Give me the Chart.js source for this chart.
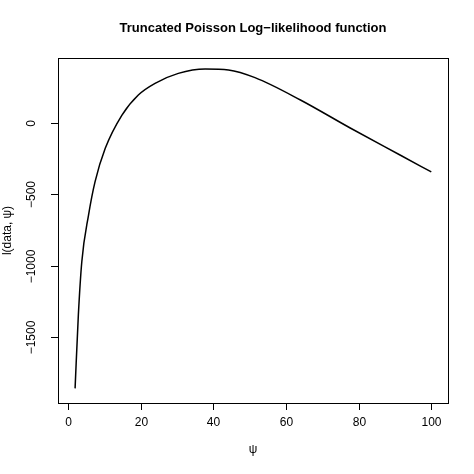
<!DOCTYPE html>
<html><head><meta charset="utf-8">
<script src="https://cdn.jsdelivr.net/npm/chart.js@4/dist/chart.umd.min.js"></script>
<style>html,body{margin:0;padding:0;background:#fff}#w{width:474px;height:474px}</style>
</head><body><div id="w"><canvas id="c"></canvas></div>
<script>
const psi = [2.0, 2.9, 3.85, 5.7, 7.5, 10.3, 14.9, 19.4, 24, 30.4, 37.8, 44.2, 51.5, 64, 77.7, 91.4, 100];
const loglik = [-1863, -1348, -973, -645, -410, -176, 58, 199, 281, 351, 382, 375, 321, 164, -33, -223, -342];
const xTicks = [0, 20, 40, 60, 80, 100];
const yTicks = [-1500, -1000, -500, 0];
const title = "Truncated Poisson Log\u2212likelihood function";
const xLabel = "\u03c8";
const yLabel = "l(data, \u03c8)";

const axesPlugin = {
  id: 'raxes',
  afterDraw(chart) {
    const ctx = chart.ctx, a = chart.chartArea, xs = chart.scales.x, ys = chart.scales.y;
    ctx.save();
    ctx.strokeStyle = '#000'; ctx.lineWidth = 1; ctx.fillStyle = '#000';
    ctx.strokeRect(a.left + 0.5, a.top + 0.5, a.right - a.left, a.bottom - a.top);
    ctx.font = '12px "Liberation Sans", Arial, sans-serif';
    ctx.textAlign = 'center'; ctx.textBaseline = 'top';
    xTicks.forEach(v => {
      const px = Math.round(xs.getPixelForValue(v)) + 0.5;
      ctx.beginPath(); ctx.moveTo(px, a.bottom); ctx.lineTo(px, a.bottom + 7); ctx.stroke();
      ctx.fillText(String(v), px, a.bottom + 14);
    });
    yTicks.forEach(v => {
      const py = Math.round(ys.getPixelForValue(v)) + 0.5;
      ctx.beginPath(); ctx.moveTo(a.left, py); ctx.lineTo(a.left - 7, py); ctx.stroke();
      ctx.save(); ctx.translate(a.left - 26, py); ctx.rotate(-Math.PI / 2);
      ctx.textBaseline = 'middle';
      ctx.fillText(String(v).replace('-', '\u2212'), 0, 0); ctx.restore();
    });
    ctx.font = 'bold 13px "Liberation Sans", Arial, sans-serif';
    ctx.textBaseline = 'middle';
    const cx = (a.left + a.right) / 2;
    ctx.fillText(title, cx, 28);
    ctx.font = '12px "Liberation Sans", Arial, sans-serif';
    ctx.fillText(xLabel, cx, 450);
    ctx.save(); ctx.translate(8, (a.top + a.bottom) / 2); ctx.rotate(-Math.PI / 2);
    ctx.fillText(yLabel, 0, 0); ctx.restore();
    ctx.restore();
  }
};

new Chart(document.getElementById('c'), {
  type: 'line',
  data: { datasets: [{ data: psi.map((p, i) => ({ x: p, y: loglik[i] })),
    borderColor: '#000', borderWidth: 1.5, pointRadius: 0, fill: false,
    cubicInterpolationMode: 'monotone' }] },
  options: {
    responsive: true, maintainAspectRatio: false, animation: false,
    layout: { padding: { left: 58, right: 26, top: 58, bottom: 71 } },
    plugins: { legend: { display: false }, tooltip: { enabled: false } },
    scales: {
      x: { type: 'linear', min: -2.7, max: 104.6, display: false },
      y: { type: 'linear', min: -1966, max: 459, display: false }
    }
  },
  plugins: [axesPlugin]
});
</script></body></html>
